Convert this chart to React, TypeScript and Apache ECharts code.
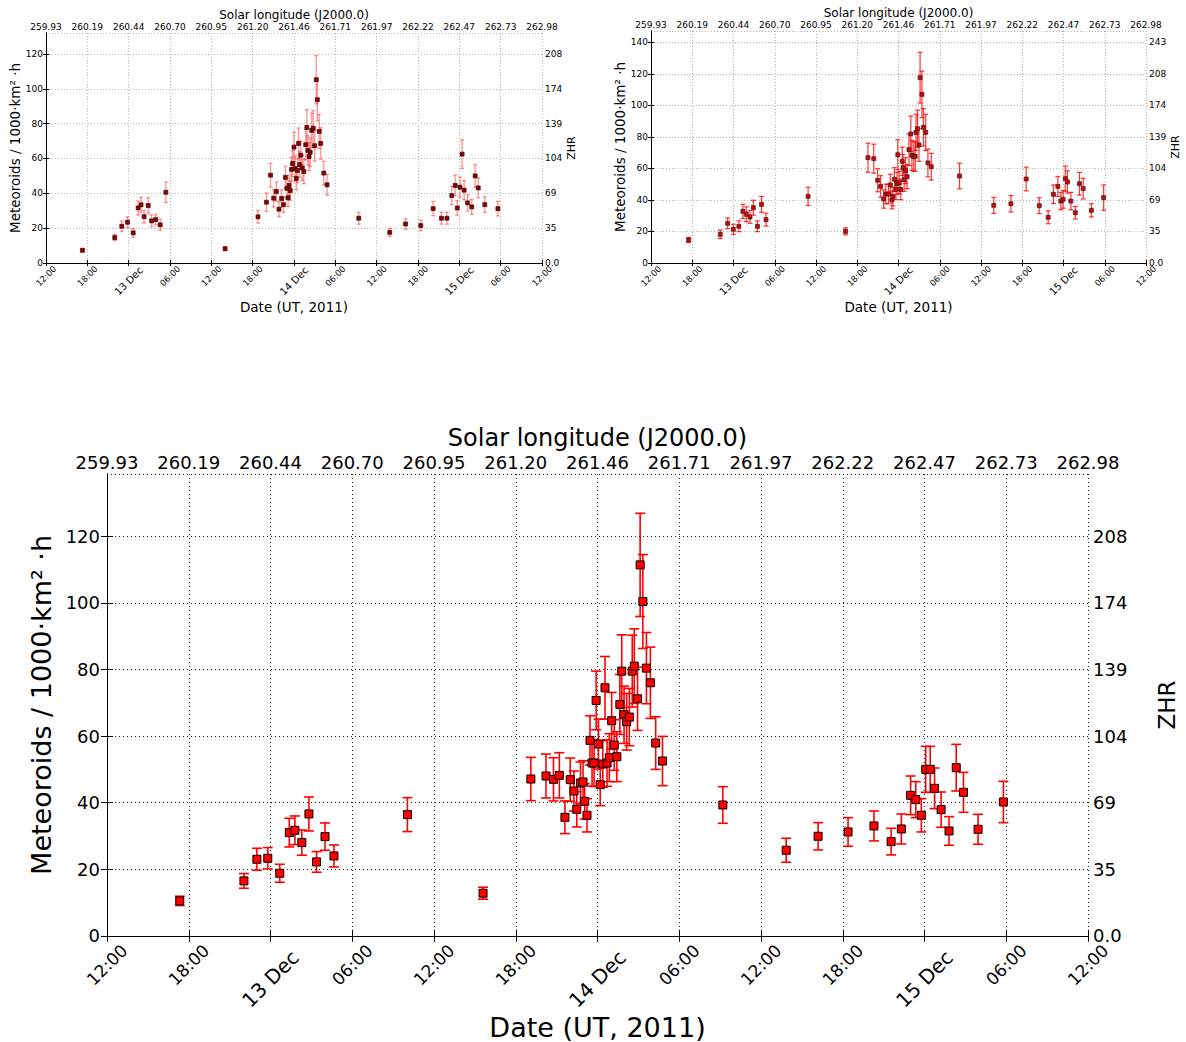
import React, { useEffect, useRef } from 'react';
import * as echarts from 'echarts';

// Tick labels
const DATE_TICKS = ['12:00', '18:00', '13 Dec', '06:00', '12:00', '18:00', '14 Dec', '06:00', '12:00', '18:00', '15 Dec', '06:00', '12:00'];
const SOLAR_TICKS = ['259.93', '260.19', '260.44', '260.70', '260.95', '261.20', '261.46', '261.71', '261.97', '262.22', '262.47', '262.73', '262.98'];
const ZHR_TICKS = ['0.0', '35', '69', '104', '139', '174', '208', '243'];

// Panel A (top-left): hours since 12 Dec 12:00 UT, flux, error
const A_HOURS = [5.29, 9.98, 11.0, 11.84, 12.66, 13.37, 13.8, 14.24, 14.84, 15.33, 15.93, 16.58, 17.4, 26.0, 30.77, 32.0, 32.6, 33.05, 33.44, 33.82, 34.2, 34.48, 34.75, 34.97, 35.13, 35.3, 35.46, 35.62, 35.79, 36.0, 36.17, 36.33, 36.5, 36.66, 36.82, 36.99, 37.2, 37.43, 37.7, 37.86, 38.02, 38.19, 38.35, 38.57, 38.79, 39.0, 39.23, 39.39, 39.66, 39.88, 40.32, 40.8, 45.4, 49.9, 52.2, 54.4, 56.2, 57.4, 58.2, 58.9, 59.4, 59.7, 60.1, 60.4, 60.7, 61.2, 61.8, 62.3, 62.75, 63.7, 65.6];
const A_VALUES = [7.3, 14.6, 21.1, 23.4, 17.3, 31.6, 33.4, 26.6, 33.0, 24.2, 24.9, 21.9, 40.6, 8.2, 26.5, 34.9, 50.4, 37.2, 41.0, 30.9, 37.0, 33.5, 49.1, 42.9, 37.4, 44.5, 41.6, 53.7, 57.1, 66.5, 54.2, 48.5, 53.1, 68.6, 56.5, 61.9, 54.6, 52.5, 67.9, 77.8, 64.6, 61.1, 63.6, 76.1, 77.4, 67.3, 105.2, 93.7, 75.5, 68.6, 51.6, 44.9, 25.7, 17.6, 22.4, 21.5, 31.2, 25.7, 25.7, 38.7, 44.5, 31.6, 43.5, 62.5, 41.8, 34.5, 32.2, 50.0, 43.1, 33.5, 31.2];
const A_ERRORS = [1.0, 1.7, 3.0, 3.1, 2.5, 4.0, 4.3, 3.6, 4.4, 3.4, 3.0, 3.1, 5.9, 1.1, 3.6, 5.3, 6.8, 5.0, 5.4, 4.2, 4.9, 4.5, 6.4, 5.7, 5.0, 6.0, 5.6, 7.0, 7.5, 8.6, 7.2, 6.4, 7.0, 8.9, 7.4, 8.1, 7.2, 7.0, 8.8, 10.2, 8.4, 8.0, 8.3, 9.9, 10.1, 8.8, 13.8, 12.2, 9.8, 9.0, 6.8, 6.0, 3.4, 2.4, 3.0, 3.0, 4.1, 3.4, 3.4, 5.2, 5.9, 4.2, 5.8, 8.2, 5.5, 4.6, 4.3, 6.5, 5.7, 4.5, 4.2];

// Panel B (top-right)
const B_HOURS = [5.47, 10.07, 11.15, 11.97, 12.78, 13.37, 13.86, 14.4, 14.89, 15.48, 16.08, 16.73, 22.85, 28.3, 31.56, 32.4, 32.97, 33.4, 33.84, 34.16, 34.54, 34.81, 35.03, 35.19, 35.41, 35.63, 35.79, 35.9, 36.1, 36.33, 36.55, 36.65, 36.82, 37.03, 37.25, 37.52, 37.79, 37.95, 38.22, 38.44, 38.55, 38.77, 38.98, 39.14, 39.41, 39.63, 39.96, 40.28, 40.77, 44.88, 49.86, 52.35, 54.57, 56.47, 57.77, 58.53, 59.18, 59.61, 59.94, 60.26, 60.58, 61.07, 61.72, 62.32, 62.86, 64.05, 65.84];
const B_VALUES = [14.6, 18.2, 25.2, 21.4, 23.3, 32.8, 30.9, 29.2, 35.1, 23.3, 37.2, 27.5, 42.3, 20.1, 66.8, 66.2, 52.5, 48.6, 40.6, 43.8, 43.8, 49.5, 40.0, 42.1, 53.1, 46.7, 50.5, 68.7, 51.0, 46.7, 64.5, 60.5, 52.9, 58.6, 54.8, 71.9, 81.9, 68.3, 67.5, 67.7, 82.9, 85.2, 74.9, 117.6, 107.0, 86.1, 82.9, 63.5, 61.1, 55.2, 36.6, 37.6, 53.3, 36.4, 29.0, 43.6, 48.6, 39.3, 40.4, 53.5, 51.4, 39.3, 31.9, 50.3, 47.2, 33.4, 41.5];
const B_ERRORS = [1.6, 2.7, 3.4, 3.2, 3.4, 4.5, 4.7, 4.0, 4.7, 3.4, 5.0, 4.1, 5.8, 2.2, 9.2, 9.2, 7.3, 6.8, 5.8, 6.2, 6.2, 6.9, 5.6, 5.9, 7.4, 6.5, 7.0, 9.5, 7.1, 6.5, 9.0, 8.4, 7.4, 8.2, 7.6, 10.0, 11.3, 9.5, 9.4, 9.4, 11.5, 11.8, 10.4, 16.1, 14.8, 11.9, 11.5, 8.8, 8.5, 8.1, 5.1, 5.2, 7.5, 5.0, 4.1, 5.9, 6.3, 5.5, 5.6, 8.0, 7.1, 5.5, 4.0, 7.2, 6.6, 4.2, 8.0];

// Panel C (bottom)
const C_HOURS = [5.34, 10.05, 11.0, 11.8, 12.68, 13.38, 13.79, 14.3, 14.82, 15.38, 16.0, 16.66, 22.05, 27.6, 31.11, 32.22, 32.77, 33.2, 33.61, 34.0, 34.27, 34.48, 34.75, 34.94, 35.06, 35.23, 35.45, 35.6, 35.75, 35.9, 36.07, 36.2, 36.39, 36.55, 36.7, 36.87, 37.04, 37.23, 37.42, 37.64, 37.78, 37.95, 38.14, 38.34, 38.55, 38.7, 38.94, 39.13, 39.33, 39.59, 39.88, 40.27, 40.77, 45.2, 49.85, 52.19, 54.39, 56.29, 57.55, 58.3, 58.98, 59.36, 59.77, 60.09, 60.42, 60.74, 61.22, 61.8, 62.33, 62.86, 63.93, 65.79];
const C_VALUES = [10.5, 16.5, 23.0, 23.3, 18.8, 31.0, 31.7, 28.0, 36.6, 22.2, 29.8, 24.0, 36.4, 12.8, 47.1, 48.0, 47.0, 48.2, 35.6, 46.9, 43.5, 38.0, 45.9, 46.2, 40.4, 36.2, 58.7, 51.9, 51.9, 70.7, 57.6, 45.4, 51.6, 74.5, 51.9, 53.5, 64.6, 57.3, 53.8, 69.5, 79.5, 66.4, 64.3, 65.7, 79.5, 81.0, 71.2, 111.4, 100.4, 80.4, 76.0, 57.9, 52.5, 39.3, 25.7, 29.9, 31.2, 33.0, 28.3, 32.1, 42.2, 40.9, 36.2, 50.0, 50.0, 44.3, 37.9, 31.5, 50.5, 43.1, 32.0, 40.2];
const C_ERRORS = [1.4, 2.2, 3.3, 3.2, 2.7, 4.3, 4.3, 3.8, 5.1, 3.1, 4.1, 3.3, 5.1, 1.8, 6.5, 6.6, 6.5, 6.8, 4.9, 6.5, 6.0, 5.3, 6.3, 6.4, 5.3, 5.0, 7.4, 7.0, 7.0, 8.8, 7.5, 6.3, 7.0, 9.4, 7.0, 7.2, 8.5, 7.6, 7.5, 9.0, 10.9, 8.6, 8.5, 8.6, 10.8, 11.2, 9.5, 15.5, 14.1, 10.7, 10.7, 7.9, 7.4, 5.5, 3.6, 4.1, 4.3, 4.5, 4.0, 4.5, 5.8, 5.4, 5.0, 6.9, 6.9, 6.1, 5.3, 4.3, 7.0, 6.0, 4.5, 6.2];

const FONT = 'DejaVu Sans';

type Panel = {
  hours: number[]; values: number[]; errors: number[];
  grid: { left: number; top: number; width: number; height: number };
  ymax: number;
  tickFont: number; dateFont: number; dayFont: number; dayPad: number[];
  titleFont: number; solarTitleFont: number; zhrFont: number;
  yLabelMargin: number; zhrLabelMargin: number; solarLabelMargin: number; dateLabelMargin: number;
  yNameGap: number; zhrNameGap: number; xNameGap: number; solarNameGap: number;
  tickLen: number; gridColor: string; gridDash: number[];
  markerSize: number; markerFill: string; markerBorder: string; markerBorderWidth: number;
  barColor: string; barWidth: number; cap: number;
};

const PANELS: Panel[] = [
  {
    hours: A_HOURS, values: A_VALUES, errors: A_ERRORS,
    grid: { left: 46, top: 33, width: 496, height: 230 }, ymax: 132,
    tickFont: 9, dateFont: 8.5, dayFont: 10, dayPad: [7, 7, 0, 0],
    titleFont: 13.5, solarTitleFont: 12, zhrFont: 11,
    yLabelMargin: 3, zhrLabelMargin: 3, solarLabelMargin: 2, dateLabelMargin: 13,
    yNameGap: 20, zhrNameGap: 23, xNameGap: 37, solarNameGap: 11,
    tickLen: 3, gridColor: '#b8b8b8', gridDash: [1, 2],
    markerSize: 4, markerFill: '#900000', markerBorder: '#200', markerBorderWidth: 0.6,
    barColor: 'rgba(255,40,40,0.5)', barWidth: 1.3, cap: 4,
  },
  {
    hours: B_HOURS, values: B_VALUES, errors: B_ERRORS,
    grid: { left: 651, top: 31, width: 495, height: 232 }, ymax: 147.2,
    tickFont: 9, dateFont: 8.5, dayFont: 10, dayPad: [7, 7, 0, 0],
    titleFont: 13.5, solarTitleFont: 12, zhrFont: 11,
    yLabelMargin: 3, zhrLabelMargin: 3, solarLabelMargin: 2, dateLabelMargin: 13,
    yNameGap: 23, zhrNameGap: 24, xNameGap: 37, solarNameGap: 12,
    tickLen: 3, gridColor: '#b0b0b0', gridDash: [1, 2],
    markerSize: 4, markerFill: '#e00000', markerBorder: '#222', markerBorderWidth: 0.7,
    barColor: 'rgba(255,0,0,0.8)', barWidth: 1.2, cap: 5,
  },
  {
    hours: C_HOURS, values: C_VALUES, errors: C_ERRORS,
    grid: { left: 107, top: 474, width: 994, height: 462 }, ymax: 138.7,
    tickFont: 18, dateFont: 17, dayFont: 20, dayPad: [20, 20, 0, 0],
    titleFont: 27, solarTitleFont: 24, zhrFont: 23,
    yLabelMargin: 7, zhrLabelMargin: 5, solarLabelMargin: 3, dateLabelMargin: 29,
    yNameGap: 40, zhrNameGap: 67, xNameGap: 74, solarNameGap: 24,
    tickLen: 6, gridColor: '#222', gridDash: [1, 3],
    markerSize: 8, markerFill: '#ff0000', markerBorder: '#000', markerBorderWidth: 1,
    barColor: '#ff0000', barWidth: 1.6, cap: 10,
  },
];

function onTick(v: number, step: number) {
  const i = Math.round(v / step);
  return Math.abs(v - i * step) < 1e-6 ? i : -1;
}

function buildOption() {
  const grids: any[] = [];
  const xAxes: any[] = [];
  const yAxes: any[] = [];
  const series: any[] = [];
  PANELS.forEach((p, k) => {
    grids.push({ ...p.grid, containLabel: false });
    const axisLine = { show: true, lineStyle: { color: '#000', width: 1 } };
    const axisTick = { show: true, inside: true, length: p.tickLen, lineStyle: { color: '#000' } };
    xAxes.push({
      type: 'value', gridIndex: k, position: 'bottom', min: 0, max: 72, interval: 6,
      axisLine, axisTick,
      splitLine: { show: true, lineStyle: { color: p.gridColor, type: p.gridDash, width: 1 } },
      axisLabel: {
        show: true, rotate: 45, align: 'center', verticalAlign: 'middle', margin: p.dateLabelMargin,
        showMinLabel: true, showMaxLabel: true, color: '#000', fontFamily: FONT, fontSize: p.dateFont,
        formatter: (v: number) => {
          const i = onTick(v, 6);
          if (i < 0 || i >= DATE_TICKS.length) return '';
          const t = DATE_TICKS[i];
          return t.indexOf('Dec') >= 0 ? `{big|${t}}` : `{n|${t}}`;
        },
        rich: {
          n: { fontFamily: FONT, fontSize: p.dateFont, color: '#000' },
          big: { fontFamily: FONT, fontSize: p.dayFont, color: '#000', padding: p.dayPad },
        },
      },
      name: 'Date (UT, 2011)', nameLocation: 'middle', nameGap: p.xNameGap,
      nameTextStyle: { fontFamily: FONT, fontSize: p.titleFont, color: '#000' },
    });
    xAxes.push({
      type: 'value', gridIndex: k, position: 'top', min: 0, max: 72, interval: 6,
      axisLine, axisTick, splitLine: { show: false },
      axisLabel: {
        show: true, margin: p.solarLabelMargin, showMinLabel: true, showMaxLabel: true,
        color: '#000', fontFamily: FONT, fontSize: p.tickFont,
        formatter: (v: number) => {
          const i = onTick(v, 6);
          return i >= 0 && i < SOLAR_TICKS.length ? SOLAR_TICKS[i] : '';
        },
      },
      name: 'Solar longitude (J2000.0)', nameLocation: 'middle', nameGap: p.solarNameGap,
      nameTextStyle: { fontFamily: FONT, fontSize: p.solarTitleFont, color: '#000' },
    });
    yAxes.push({
      type: 'value', gridIndex: k, position: 'left', min: 0, max: p.ymax, interval: 20,
      axisLine, axisTick,
      splitLine: { show: true, lineStyle: { color: p.gridColor, type: p.gridDash, width: 1 } },
      axisLabel: {
        show: true, margin: p.yLabelMargin, showMaxLabel: false, color: '#000', fontFamily: FONT, fontSize: p.tickFont,
        formatter: (v: number) => (onTick(v, 20) >= 0 ? String(Math.round(v)) : ''),
      },
      name: 'Meteoroids / 1000·km² ·h', nameLocation: 'middle', nameGap: p.yNameGap,
      nameTextStyle: { fontFamily: FONT, fontSize: p.titleFont, color: '#000' },
    });
    yAxes.push({
      type: 'value', gridIndex: k, position: 'right', min: 0, max: p.ymax, interval: 20,
      axisLine, axisTick, splitLine: { show: false },
      axisLabel: {
        show: true, margin: p.zhrLabelMargin, showMaxLabel: false, color: '#000', fontFamily: FONT, fontSize: p.tickFont,
        formatter: (v: number) => {
          const i = onTick(v, 20);
          return i >= 0 && i < ZHR_TICKS.length ? ZHR_TICKS[i] : '';
        },
      },
      name: 'ZHR', nameLocation: 'middle', nameGap: p.zhrNameGap,
      nameTextStyle: { fontFamily: FONT, fontSize: p.zhrFont, color: '#000' },
    });

    const barData = p.hours.map((h, i) => [h, p.values[i] - p.errors[i], p.values[i] + p.errors[i]]);
    const cap = p.cap;
    const stroke = p.barColor;
    const lw = p.barWidth;
    series.push({
      type: 'custom', xAxisIndex: 2 * k, yAxisIndex: 2 * k, z: 2,
      encode: { x: 0, y: [1, 2] },
      data: barData,
      renderItem: (params: any, api: any) => {
        const x = api.value(0);
        const lo = api.coord([x, api.value(1)]);
        const hi = api.coord([x, api.value(2)]);
        const style = { stroke, lineWidth: lw, fill: 'none' };
        return {
          type: 'group',
          children: [
            { type: 'line', shape: { x1: lo[0], y1: lo[1], x2: hi[0], y2: hi[1] }, style },
            { type: 'line', shape: { x1: lo[0] - cap / 2, y1: lo[1], x2: lo[0] + cap / 2, y2: lo[1] }, style },
            { type: 'line', shape: { x1: hi[0] - cap / 2, y1: hi[1], x2: hi[0] + cap / 2, y2: hi[1] }, style },
          ],
        };
      },
    });
    series.push({
      type: 'scatter', xAxisIndex: 2 * k, yAxisIndex: 2 * k, z: 3,
      symbol: 'rect', symbolSize: p.markerSize,
      itemStyle: { color: p.markerFill, borderColor: p.markerBorder, borderWidth: p.markerBorderWidth, opacity: 1 },
      data: p.hours.map((h, i) => [h, p.values[i]]),
    });
  });

  return {
    animation: false,
    backgroundColor: '#fff',
    textStyle: { fontFamily: FONT },
    grid: grids,
    xAxis: xAxes,
    yAxis: yAxes,
    series,
  };
}

export default function App() {
  const ref = useRef<HTMLDivElement>(null);
  useEffect(() => {
    if (!ref.current) return;
    const chart = echarts.init(ref.current, undefined, { renderer: 'svg' });
    chart.setOption(buildOption() as any);
    return () => chart.dispose();
  }, []);
  return (
    <div
      ref={ref}
      style={{ position: 'fixed', left: 0, top: 0, width: 1186, height: 1042, background: '#fff' }}
    />
  );
}
